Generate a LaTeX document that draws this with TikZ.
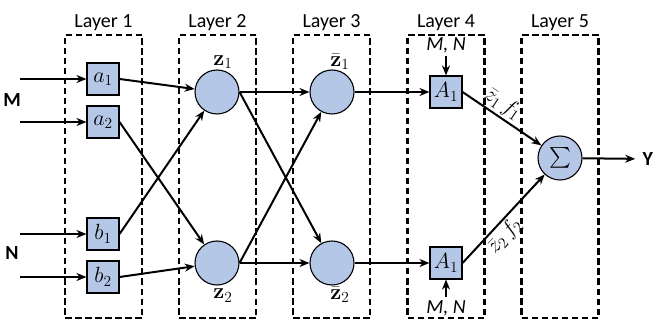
\documentclass[tikz,border=0pt]{standalone}
\usepackage{fix-cm}
\usepackage{amsmath}
\usepackage[no-math]{fontspec}
\setmainfont{Carlito}
\usetikzlibrary{arrows.meta,positioning}
\definecolor{cellblue}{RGB}{180,199,231}

\tikzset{
  layer/.style={draw,dash pattern=on 6.5pt off 3.5pt,line width=2.4pt,
    minimum width=77pt,minimum height=283pt,label distance=2pt},
  unit/.style={draw,line width=1.1pt,fill=cellblue,minimum size=32pt,inner sep=0pt,
    font=\fontsize{22}{26}\selectfont},
  neuron/.style={circle,draw,line width=1.1pt,fill=cellblue,minimum size=44pt,inner sep=0pt},
  conn/.style={-{Stealth[length=10pt,width=8pt]},line width=2pt},
  mathlbl/.style={font=\fontsize{22}{26}\selectfont},
}

\begin{document}
\begin{tikzpicture}[x=1pt,y=1pt,font=\fontsize{20}{24}\selectfont]
  \useasboundingbox (0,0) rectangle (655,321);

  \node[layer,label={above:Layer 1}] (L1) at (103.5,144.5) {};
  \node[layer,label={above:Layer 2}] (L2) at (217.5,144.5) {};
  \node[layer,label={above:Layer 3}] (L3) at (331.5,144.5) {};
  \node[layer,label={above:Layer 4}] (L4) at (446,144.5) {};
  \node[layer,label={above:Layer 5}] (L5) at (560,144.5) {};

  \node[unit] (a1) at (103,242) {$a_1$};
  \node[unit] (a2) at (103,199) {$a_2$};
  \node[unit] (b1) at (103,87)  {$b_1$};
  \node[unit] (b2) at (103,44)  {$b_2$};

  \node[neuron,label={[mathlbl,xshift=6pt,label distance=-3pt]above:$\mathbf{z}_1$}] (z1) at (217,229) {};
  \node[neuron,label={[mathlbl,xshift=6pt,label distance=0pt]below:$\mathbf{z}_2$}] (z2) at (217,58) {};
  \node[neuron,label={[mathlbl,xshift=8pt,label distance=-4pt]above:$\bar{\mathbf{z}}_1$}] (zb1) at (332,229) {};
  \node[neuron,label={[mathlbl,xshift=8pt,label distance=-2pt]below:$\bar{\mathbf{z}}_2$}] (zb2) at (332,58) {};

  \node[unit] (At) at (446,229) {$A_1$};
  \node[unit] (Ab) at (446,58)  {$A_1$};
  \node (mnt) at (446,276) {\textit{M, N}};
  \node (mnb) at (446,13)  {\textit{M, N}};

  \node[neuron,mathlbl] (sum) at (560,163) {$\sum$};
  \node (y) at (648,162) {\textbf{Y}};

  \coordinate (ina1) at (20,242);
  \coordinate (ina2) at (20,199);
  \coordinate (inb1) at (20,87);
  \coordinate (inb2) at (20,44);
  \node (m) at (12,221) {\textbf{M}};
  \node (n) at (12,68)  {\textbf{N}};

  \path[conn] (ina1) edge (a1)
              (ina2) edge (a2)
              (inb1) edge (b1)
              (inb2) edge (b2)
              (a1.east) edge (z1)
              (a2.east) edge (z2)
              (b1.east) edge (z1)
              (b2.east) edge (z2)
              (z1) edge (zb1)
              (z1.east) edge (zb2)
              (z2.east) edge (zb1)
              (z2) edge (zb2)
              (zb1) edge (At)
              (zb2) edge (Ab)
              (mnt) edge (At)
              (mnb) edge (Ab)
              (At.east) edge node[mathlbl,sloped,above,pos=0.42,inner sep=2pt] {$\bar{z}_1\,f_1$} (sum)
              (Ab.east) edge node[mathlbl,sloped,below,pos=0.4,inner sep=2pt] {$\bar{z}_2\,f_2$} (sum)
              (sum) edge[shorten >=4pt] (y);
\end{tikzpicture}
\end{document}
